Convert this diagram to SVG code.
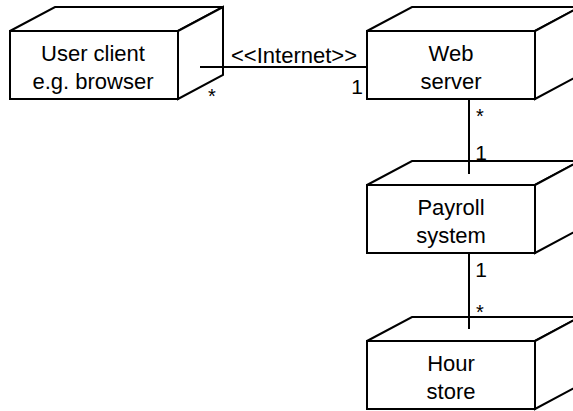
<svg xmlns="http://www.w3.org/2000/svg" width="573" height="411" viewBox="0 0 573 411">
  <style>
    .box { fill: #ffffff; stroke: #000000; stroke-width: 2; stroke-linejoin: miter; }
    .wire { stroke: #000000; stroke-width: 2; fill: none; }
    .name { font-family: "Liberation Sans", Arial, sans-serif; font-size: 22px; fill: #000000; text-anchor: middle; }
    .mult { font-family: "Liberation Sans", Arial, sans-serif; font-size: 21px; fill: #000000; text-anchor: middle; }
    .star { font-family: "Liberation Sans", Arial, sans-serif; font-size: 20px; fill: #000000; text-anchor: middle; }
  </style>
  <defs>
    <!-- UML node: front face 168x68 with a 45,-24 depth offset -->
    <g id="cube">
      <polygon class="box" points="0,0 45,-24 213,-24 168,0"/>
      <polygon class="box" points="168,0 213,-24 213,44 168,68"/>
      <rect class="box" x="0" y="0" width="168" height="68"/>
    </g>
  </defs>
  <rect width="573" height="411" fill="#ffffff"/>

  <g id="user-client">
    <use href="#cube" x="10" y="31"/>
    <text class="name" x="93" y="61">User client</text>
    <text class="name" x="93" y="89">e.g. browser</text>
  </g>

  <g id="web-server">
    <use href="#cube" x="367" y="31"/>
    <text class="name" x="451" y="61">Web</text>
    <text class="name" x="451" y="89">server</text>
  </g>

  <g id="payroll-system">
    <use href="#cube" x="367" y="185"/>
    <text class="name" x="451" y="215">Payroll</text>
    <text class="name" x="451" y="243">system</text>
  </g>

  <g id="hour-store">
    <use href="#cube" x="367" y="341"/>
    <text class="name" x="451" y="371">Hour</text>
    <text class="name" x="451" y="399">store</text>
  </g>

  <!-- associations drawn over the node faces -->
  <g id="connectors">
    <line class="wire" x1="200" y1="67" x2="367" y2="67"/>
    <line class="wire" x1="469" y1="99" x2="469" y2="174"/>
    <line class="wire" x1="469" y1="254" x2="469" y2="329"/>
    <text class="name" x="294" y="63">&lt;&lt;Internet&gt;&gt;</text>
    <text class="star" x="212" y="103">*</text>
    <text class="mult" x="357" y="94">1</text>
    <text class="star" x="480" y="123">*</text>
    <text class="mult" x="481" y="160">1</text>
    <text class="mult" x="481" y="277">1</text>
    <text class="star" x="480" y="319">*</text>
  </g>
</svg>
